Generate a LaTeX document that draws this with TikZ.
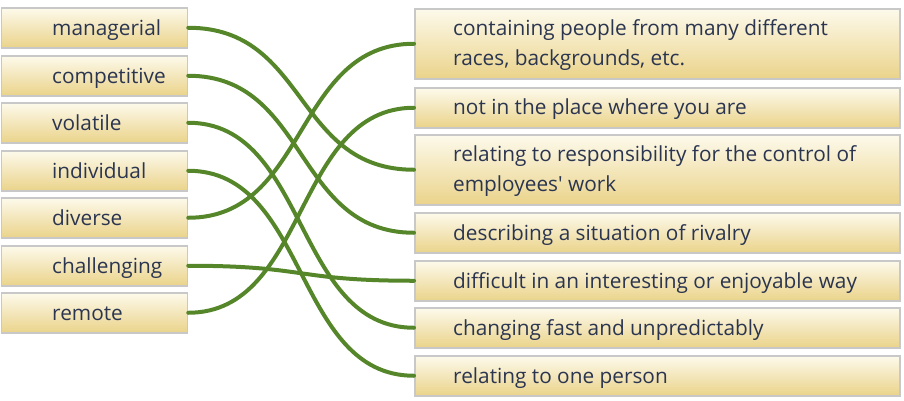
\documentclass[tikz,border=0pt]{standalone}
\usepackage{fontspec}
\newfontfamily\osans{Open Sans}
\definecolor{boxtop}{HTML}{FDFAEC}
\definecolor{boxbot}{HTML}{EAD38A}
\definecolor{boxline}{HTML}{C8C8C8}
\definecolor{txt}{HTML}{2B3550}
\definecolor{wire}{HTML}{55862A}
\begin{document}
\begin{tikzpicture}[x=1pt,y=-1pt,
  box/.style={draw=boxline,line width=1.5pt,top color=boxtop,bottom color=boxbot,inner sep=0pt,anchor=north west},
  lbox/.style={box,minimum width=186pt,minimum height=40pt},
  rbox/.style={box,minimum width=485pt,minimum height=40pt},
  rbox2/.style={box,minimum width=485pt,minimum height=70pt},
  lbl/.style={anchor=base west,inner sep=0pt,text=txt,font=\osans\fontsize{20.8}{30}\selectfont,align=left},
  wire/.style={draw=wire,line width=4pt,line cap=round}]
\useasboundingbox (0,0) rectangle (904,400);
% left boxes
\node[lbox] (l1) at (0.75,7) {};
\node[lbox] (l2) at (0.75,55) {};
\node[lbox] (l3) at (0.75,102) {};
\node[lbox] (l4) at (0.75,150) {};
\node[lbox] (l5) at (0.75,197) {};
\node[lbox] (l6) at (0.75,245) {};
\node[lbox] (l7) at (0.75,292) {};
\node[lbl] (lt1) at (52,35) {managerial};
\node[lbl] (lt2) at (52,83) {competitive};
\node[lbl] (lt3) at (52,130) {volatile};
\node[lbl] (lt4) at (52,178) {individual};
\node[lbl] (lt5) at (52,225) {diverse};
\node[lbl] (lt6) at (52,273) {challenging};
\node[lbl] (lt7) at (52,320) {remote};
% right boxes
\node[rbox2] (r1) at (414,8) {};
\node[rbox] (r2) at (414,87) {};
\node[rbox2] (r3) at (414,134) {};
\node[rbox] (r4) at (414,212) {};
\node[rbox] (r5) at (414,260) {};
\node[rbox] (r6) at (414,307) {};
\node[rbox] (r7) at (414,355) {};
\node[lbl] (rt1) at (453,65) {containing people from many different\\races, backgrounds, etc.};
\node[lbl] (rt2) at (453,114) {not in the place where you are};
\node[lbl] (rt3) at (453,191) {relating to responsibility for the control of\\employees' work};
\node[lbl] (rt4) at (453,240) {describing a situation of rivalry};
\node[lbl] (rt5) at (453,288) {difficult in an interesting or enjoyable way};
\node[lbl] (rt6) at (453,335) {changing fast and unpredictably};
\node[lbl] (rt7) at (453,383) {relating to one person};
% connectors
\draw[wire] (l1.east) .. controls +(120,0) and +(-120,0) .. (r3.west);
\draw[wire] (l2.east) .. controls +(120,0) and +(-120,0) .. (r4.west);
\draw[wire] (l3.east) .. controls +(120,0) and +(-120,0) .. (r6.west);
\draw[wire] (l4.east) .. controls +(120,0) and +(-120,0) .. (r7.west);
\draw[wire] (l5.east) .. controls +(120,0) and +(-120,0) .. (r1.west);
\draw[wire] (l6.east) .. controls +(120,0) and +(-120,0) .. (r5.west);
\draw[wire] (l7.east) .. controls +(120,0) and +(-120,0) .. (r2.west);
\end{tikzpicture}
\end{document}
